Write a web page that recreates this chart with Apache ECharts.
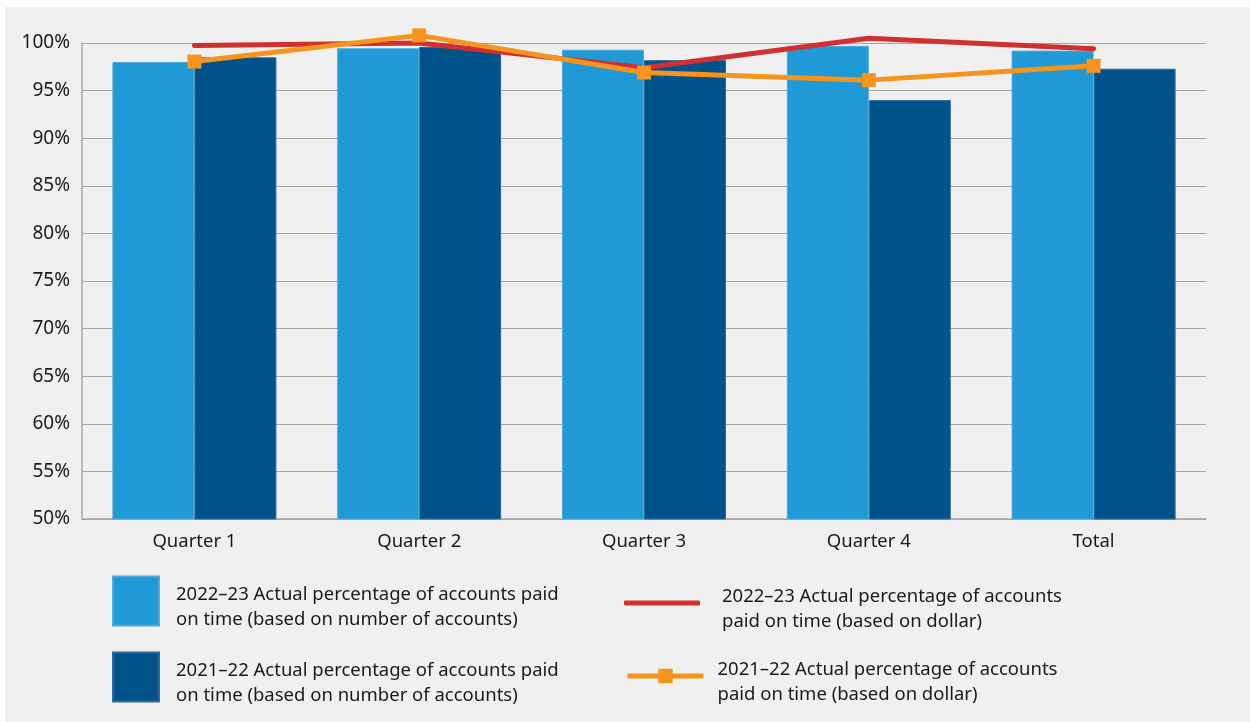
<!DOCTYPE html>
<html>
<head>
<meta charset="utf-8">
<script src="https://cdn.jsdelivr.net/npm/echarts@6/dist/echarts.min.js"></script>
<style>
  html, body { margin: 0; padding: 0; background: #fff; }
  #main { position: absolute; left: 5px; top: 7px; width: 1245px; height: 715px; }
</style>
</head>
<body>
<div id="main"></div>
<script>
var categories = ['Quarter 1', 'Quarter 2', 'Quarter 3', 'Quarter 4', 'Total'];
var yTicks = [50, 55, 60, 65, 70, 75, 80, 85, 90, 95, 100];

var count2223 = [98.0, 99.45, 99.3, 99.7, 99.2];   // 2022–23 by number of accounts
var count2122 = [98.5, 99.6, 98.2, 94.0, 97.3];    // 2021–22 by number of accounts
var dollar2223 = [99.75, 100.0, 97.4, 100.5, 99.4]; // 2022–23 by dollar
var dollar2122 = [98.05, 100.8, 96.9, 96.1, 97.6];  // 2021–22 by dollar

var names = [
  '2022–23 Actual percentage of accounts paid\non time (based on number of accounts)',
  '2021–22 Actual percentage of accounts paid\non time (based on number of accounts)',
  '2022–23 Actual percentage of accounts\npaid on time (based on dollar)',
  '2021–22 Actual percentage of accounts\npaid on time (based on dollar)'
];

var font = 'Noto Sans';
var txt = '#1a1a1a';

// legend text sits a little below the centre of its icon, so a thin empty line goes first
function legendText(pad) {
  return {
    fontFamily: font, fontSize: 18.5, lineHeight: 25, color: txt, padding: [0, 0, 0, pad],
    rich: {
      s: { fontSize: 1, lineHeight: 12 },
      t: { fontFamily: font, fontSize: 18.5, lineHeight: 25, color: txt }
    }
  };
}
function legendFormat(name) {
  return '{s| }\n' + name.split('\n').map(function (l) { return '{t|' + l + '}'; }).join('\n');
}

var myChart = echarts.init(document.getElementById('main'));
myChart.setOption({
  backgroundColor: '#f0f0f0',
  animation: false,
  grid: { left: 77, right: 44, top: 36, bottom: 203 },
  legend: [
    { data: [names[0]], left: 102, top: 558, icon: 'rect', itemWidth: 46, itemHeight: 49, formatter: legendFormat, textStyle: legendText(12) },
    { data: [names[1]], left: 102, top: 634, icon: 'rect', itemWidth: 46, itemHeight: 49, formatter: legendFormat, textStyle: legendText(12) },
    { data: [names[2]], left: 614, top: 560, icon: 'roundRect', itemWidth: 76, itemHeight: 5, formatter: legendFormat, textStyle: legendText(17) },
    { data: [names[3]], left: 615, top: 633, itemWidth: 76, itemHeight: 18, lineStyle: { width: 5 }, formatter: legendFormat, textStyle: legendText(9) }
  ],
  xAxis: {
    type: 'category',
    data: categories,
    axisLine: { lineStyle: { color: '#a6a6a6', width: 1.5 } },
    axisTick: { inside: true, length: 11, lineStyle: { color: '#a6a6a6', width: 1.5 } },
    axisLabel: { fontFamily: font, fontSize: 18.5, color: txt, margin: 13 }
  },
  yAxis: {
    type: 'value',
    min: 50,
    max: 100,
    interval: 5,
    axisLine: { show: true, lineStyle: { color: '#a6a6a6', width: 1.5 } },
    axisTick: { show: false },
    splitLine: { lineStyle: { color: '#a6a6a6', width: 1 } },
    axisLabel: {
      fontFamily: font, fontSize: 19, color: txt, margin: 12,
      formatter: function (v) { return yTicks.indexOf(v) >= 0 ? v + '%' : ''; }
    }
  },
  series: [
    {
      name: names[0], type: 'bar', data: count2223, barWidth: 82, barGap: '0%',
      itemStyle: { color: '#1f9ad6', borderColor: '#4aaade', borderWidth: 1 }
    },
    {
      name: names[1], type: 'bar', data: count2122, barWidth: 82,
      itemStyle: { color: '#00538a', borderColor: '#2a6a9a', borderWidth: 1 }
    },
    {
      name: names[2], type: 'line', data: dollar2223, clip: false,
      symbol: 'none', z: 3,
      lineStyle: { color: '#d0302f', width: 5, cap: 'round' },
      itemStyle: { color: '#d0302f' }
    },
    {
      name: names[3], type: 'line', data: dollar2122, clip: false,
      symbol: 'rect', symbolSize: 14, z: 4,
      lineStyle: { color: '#f7941d', width: 5 },
      itemStyle: { color: '#f7941d' }
    }
  ]
});
</script>
</body>
</html>
